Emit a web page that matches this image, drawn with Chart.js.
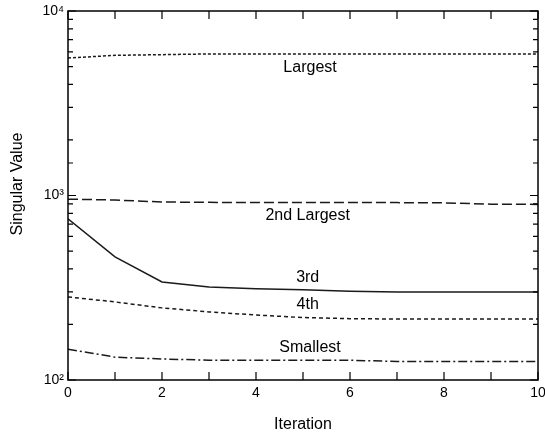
<!DOCTYPE html>
<html lang="en">
<head>
  <meta charset="UTF-8">
  <title>Singular Values per Iteration</title>
  <script src="https://cdn.jsdelivr.net/npm/chart.js"></script>
  <style>
    html, body { margin: 0; padding: 0; background: #fff; }
    #wrap { width: 545px; height: 434px; }
  </style>
</head>
<body>
  <div id="wrap"><canvas id="svChart" width="545" height="434"></canvas></div>
  <script>
    // iterations on the x axis
    const iterations = [0, 1, 2, 3, 4, 5, 6, 7, 8, 9, 10];

    // singular values
    const largest    = [5560, 5750, 5800, 5850, 5850, 5850, 5850, 5850, 5850, 5850, 5850];
    const second     = [955, 945, 922, 918, 916, 915, 915, 915, 912, 897, 895];
    const third      = [747, 465, 340, 319, 312, 308, 303, 300, 300, 300, 300];
    const fourth     = [282, 265, 246, 234, 225, 218, 215, 214, 214, 214, 214];
    const smallest   = [147, 133, 130, 128, 128, 128, 128, 126, 126, 126, 126];

    const seriesNames = ['Largest', '2nd Largest', '3rd', '4th', 'Smallest'];
    // where each name sits (x in iterations, y in singular value units)
    const nameX = [5.15, 5.1, 5.1, 5.1, 5.15];
    const nameY = [4910, 774, 361, 255, 149];

    const yTickLabels = { 100: '10²', 1000: '10³', 10000: '10⁴' };

    const ink = '#1a1a1a';
    const dashes = [[3, 2], [10, 4], [], [4, 3], [9, 3, 2, 3]];
    const allSeries = [largest, second, third, fourth, smallest];

    // box + inward tick marks on all four sides, and the series names
    const boxPlugin = {
      id: 'box',
      afterDraw(chart) {
        const { ctx, chartArea: a, scales: { x, y } } = chart;
        ctx.save();
        ctx.strokeStyle = '#000';
        ctx.lineWidth = 1.5;
        ctx.strokeRect(a.left, a.top, a.right - a.left, a.bottom - a.top);
        ctx.lineWidth = 1.2;
        ctx.beginPath();
        x.ticks.forEach(t => {
          const px = x.getPixelForValue(t.value);
          ctx.moveTo(px, a.bottom); ctx.lineTo(px, a.bottom - 8);
          ctx.moveTo(px, a.top); ctx.lineTo(px, a.top + 8);
        });
        y.ticks.forEach(t => {
          const py = y.getPixelForValue(t.value);
          const major = Math.abs(Math.log10(t.value) % 1) < 1e-9;
          const len = major ? 8 : 5;
          ctx.moveTo(a.left, py); ctx.lineTo(a.left + len, py);
          ctx.moveTo(a.right, py); ctx.lineTo(a.right - len, py);
        });
        ctx.stroke();

        ctx.fillStyle = '#000';
        ctx.font = '16px "Liberation Sans", Arial, sans-serif';
        ctx.textAlign = 'center';
        ctx.textBaseline = 'middle';
        seriesNames.forEach((n, i) => {
          ctx.fillText(n, x.getPixelForValue(nameX[i]), y.getPixelForValue(nameY[i]));
        });

        // y axis title
        ctx.translate(18, 184);
        ctx.rotate(-Math.PI / 2);
        ctx.fillText('Singular Value', 0, 0);
        ctx.restore();
      }
    };

    const ctx = document.getElementById('svChart').getContext('2d');
    new Chart(ctx, {
      type: 'line',
      data: {
        labels: iterations,
        datasets: allSeries.map((vals, i) => ({
          label: seriesNames[i],
          data: vals.map((v, k) => ({ x: iterations[k], y: v })),
          borderColor: ink,
          borderWidth: 1.5,
          borderDash: dashes[i],
          pointRadius: 0,
          fill: false,
          tension: 0
        }))
      },
      options: {
        responsive: false,
        animation: false,
        layout: { padding: { left: 0, right: 7, top: 11, bottom: 0 } },
        plugins: { legend: { display: false }, tooltip: { enabled: false } },
        scales: {
          x: {
            type: 'linear',
            min: 0, max: 10,
            grid: { display: false },
            border: { display: false },
            ticks: {
              stepSize: 1,
              color: '#000',
              padding: -3,
              font: { family: '"Liberation Sans", Arial, sans-serif', size: 14 },
              maxRotation: 0,
              callback: v => (v % 2 === 0 ? String(v) : '')
            },
            title: {
              display: true,
              text: 'Iteration',
              color: '#000',
              padding: { top: 2, bottom: 0 },
              font: { family: '"Liberation Sans", Arial, sans-serif', size: 16 }
            },
            afterFit: s => { s.height = 54; s.paddingLeft = 0; s.paddingRight = 0; }
          },
          y: {
            type: 'logarithmic',
            min: 100, max: 10000,
            grid: { display: false },
            border: { display: false },
            ticks: {
              color: '#000',
              padding: -4,
              autoSkip: false,
              font: { family: '"Liberation Sans", Arial, sans-serif', size: 14 },
              callback: v => yTickLabels[v] || ''
            },
            afterFit: s => { s.width = 68; s.paddingTop = 0; s.paddingBottom = 0; }
          }
        }
      },
      plugins: [boxPlugin]
    });
  </script>
</body>
</html>
